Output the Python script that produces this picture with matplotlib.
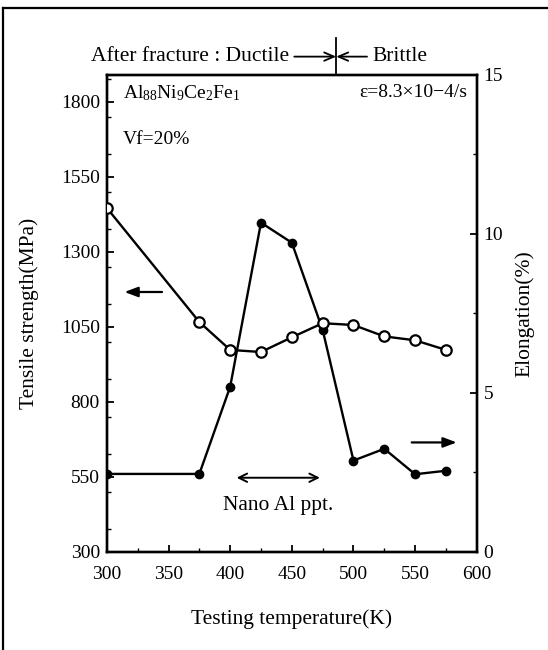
import matplotlib
matplotlib.use("Agg")
import matplotlib.pyplot as plt
from matplotlib.ticker import MultipleLocator
import matplotlib.transforms as mtransforms
from matplotlib.lines import Line2D

plt.rcParams['font.family'] = ['Liberation Serif', 'DejaVu Serif']
plt.rcParams['mathtext.fontset'] = 'custom'
plt.rcParams['mathtext.rm'] = 'Liberation Serif'
plt.rcParams['mathtext.it'] = 'Liberation Serif:italic'

# Data
temperature = [300, 375, 400, 425, 450, 475, 500, 525, 550, 575]
tensile_strength = [1446, 1066, 973, 966, 1015, 1062, 1056, 1018, 1005, 973]
elongation = [2.45, 2.45, 5.19, 10.35, 9.72, 6.98, 2.87, 3.24, 2.44, 2.55]

x_ticks = [300, 350, 400, 450, 500, 550, 600]
left_ticks = [300, 550, 800, 1050, 1300, 1550, 1800]
right_ticks = [0, 5, 10, 15]

transition_T = 486
nano_range = (403, 475)

FS_TICK = 14
FS_LABEL = 15.5
FS_IN = 14

fig = plt.figure(figsize=(5.48, 6.5), dpi=100)
ax = fig.add_axes([0.195, 0.151, 0.675, 0.734])
ax2 = ax.twinx()
ax.set_zorder(ax2.get_zorder() + 1)
ax.patch.set_visible(False)

ax.plot(temperature, tensile_strength, '-o', color='black', lw=1.7,
        markersize=7.5, markerfacecolor='white', markeredgecolor='black',
        markeredgewidth=1.6, zorder=5)
ax2.plot(temperature, elongation, '-o', color='black', lw=1.7,
         markersize=6, markerfacecolor='black', zorder=3)

ax.set_xlim(300, 600)
ax.set_ylim(300, 1890)
ax2.set_ylim(0, 15)

ax.set_xticks(x_ticks)
ax.set_yticks(left_ticks)
ax2.set_yticks(right_ticks)
ax.xaxis.set_minor_locator(MultipleLocator(25))
ax.yaxis.set_minor_locator(MultipleLocator(125))
ax2.yaxis.set_minor_locator(MultipleLocator(2.5))

for a in (ax, ax2):
    a.tick_params(which='major', direction='in', length=5, width=1.3, labelsize=FS_TICK, pad=5)
    a.tick_params(which='minor', direction='in', length=3, width=1.0)
    for s in a.spines.values():
        s.set_linewidth(1.7)
ax.tick_params(axis='x', pad=10)

ax.set_xlabel('Testing temperature(K)', fontsize=FS_LABEL, labelpad=19)
ax.set_ylabel('Tensile strength(MPa)', fontsize=FS_LABEL, labelpad=16)
ax2.set_ylabel('Elongation(%)', fontsize=FS_LABEL, labelpad=8)

# In-plot text
ax.text(0.043, 0.962, r'Al$_{88}$Ni$_{9}$Ce$_{2}$Fe$_{1}$', transform=ax.transAxes,
        fontsize=FS_IN, ha='left', va='center')
ax.text(0.043, 0.864, 'Vf=20%', transform=ax.transAxes, fontsize=FS_IN, ha='left', va='center')
ax.text(0.973, 0.962, 'ε=8.3×10−4/s', transform=ax.transAxes, fontsize=FS_IN,
        ha='right', va='center')

# Axis indicator arrows
ax.annotate('', xy=(312, 1166), xytext=(347, 1166),
            arrowprops=dict(arrowstyle='-|>,head_length=0.8,head_width=0.3',
                            color='black', lw=1.6))
ax2.annotate('', xy=(586, 3.44), xytext=(545, 3.44),
             arrowprops=dict(arrowstyle='-|>,head_length=0.8,head_width=0.3',
                             color='black', lw=1.6))

# Nano Al ppt.
ax2.annotate('', xy=(nano_range[0], 2.33), xytext=(nano_range[1], 2.33),
             arrowprops=dict(arrowstyle='<->,head_length=0.6,head_width=0.3',
                             color='black', lw=1.4))
ax2.text(sum(nano_range) / 2, 1.45, 'Nano Al ppt.', fontsize=FS_LABEL, ha='center', va='center')

# Top annotation: ductile / brittle transition
trans = mtransforms.blended_transform_factory(ax.transData, ax.transAxes)
ax.add_line(Line2D([transition_T, transition_T], [1.0, 1.078], transform=trans,
                   color='black', lw=1.3, clip_on=False))
ax.annotate('', xy=(transition_T, 1.038), xytext=(452, 1.038), xycoords=trans,
            textcoords=trans,
            arrowprops=dict(arrowstyle='->,head_length=0.7,head_width=0.3',
                            color='black', lw=1.3, shrinkA=0, shrinkB=0))
ax.annotate('', xy=(transition_T, 1.038), xytext=(511, 1.038), xycoords=trans,
            textcoords=trans,
            arrowprops=dict(arrowstyle='->,head_length=0.7,head_width=0.3',
                            color='black', lw=1.3, shrinkA=0, shrinkB=0))
ax.text(448, 1.038, 'After fracture : Ductile', transform=trans, fontsize=FS_LABEL,
        ha='right', va='center')
ax.text(515, 1.038, 'Brittle', transform=trans, fontsize=FS_LABEL, ha='left', va='center')

# Outer frame (top and left edges visible)
fig.add_artist(Line2D([3 / 548, 3 / 548], [0, 1 - 8 / 650], transform=fig.transFigure,
                      color='black', lw=1.6))
fig.add_artist(Line2D([3 / 548, 1], [1 - 8 / 650, 1 - 8 / 650], transform=fig.transFigure,
                      color='black', lw=1.6))

fig.savefig('out.png', dpi=100)
